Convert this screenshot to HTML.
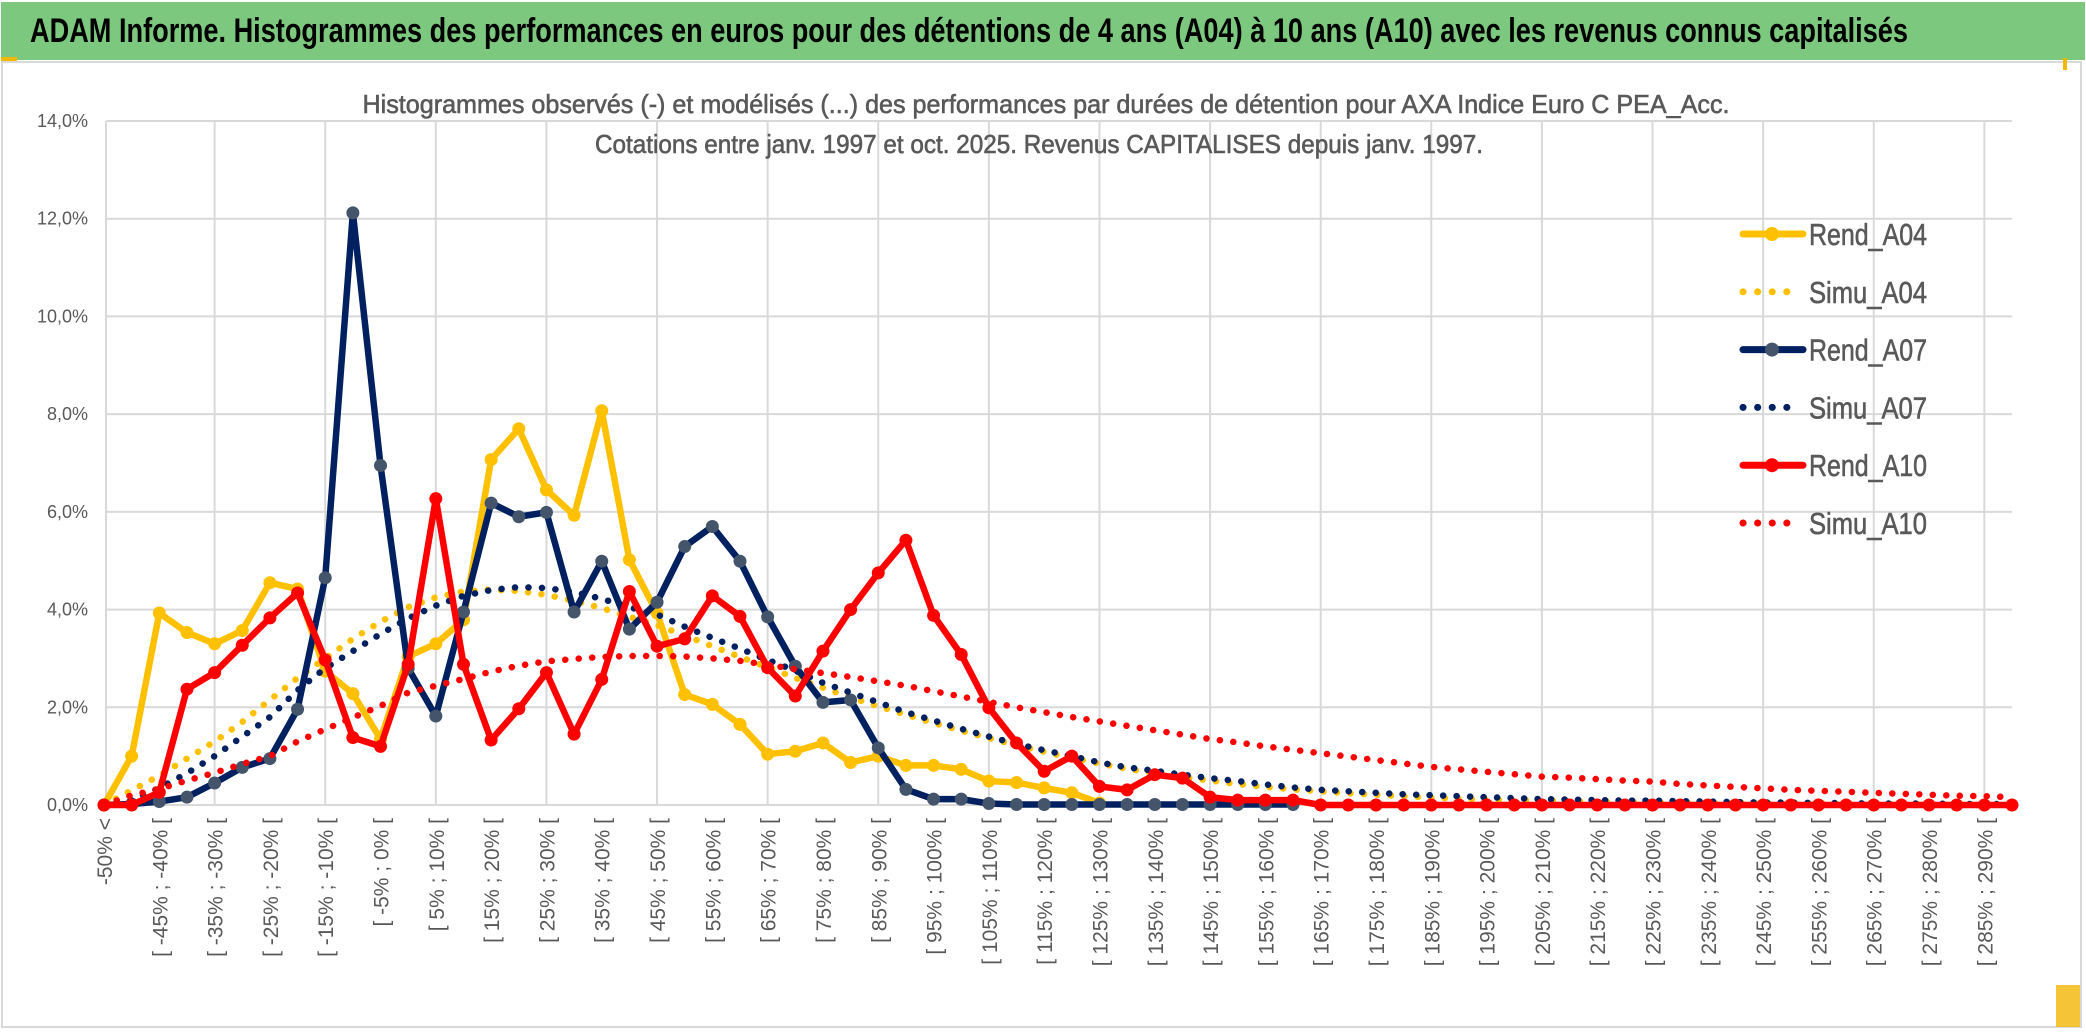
<!DOCTYPE html>
<html><head><meta charset="utf-8"><style>
html,body{margin:0;padding:0;background:#fff;}
svg{display:block;}
text{font-family:"Liberation Sans",sans-serif;}
</style></head><body>
<svg id="chart" width="2086" height="1033" viewBox="0 0 2086 1033" xmlns="http://www.w3.org/2000/svg">
<rect x="0" y="0" width="2086" height="1033" fill="#fff"/>
<rect x="1" y="2" width="2084" height="58" fill="#7DC87F"/>
<rect x="1" y="57" width="16" height="4" fill="#F2B705"/>
<text x="30" y="42" font-size="34" font-weight="bold" fill="#000" textLength="1878" lengthAdjust="spacingAndGlyphs">ADAM Informe. Histogrammes des performances en euros pour des détentions de 4 ans (A04) à 10 ans (A10) avec les revenus connus capitalisés</text>
<rect x="2" y="62" width="2079" height="965" fill="none" stroke="#d9d9d9" stroke-width="2"/>
<rect x="2063" y="58" width="4" height="12" fill="#F2B705"/>
<rect x="2056" y="985" width="24" height="42" fill="#F2B705" opacity="0.8"/>
<g id="grid"></g>
<text x="1046" y="113" font-size="26" fill="#595959" stroke="#595959" stroke-width="0.6" text-anchor="middle" textLength="1367" lengthAdjust="spacingAndGlyphs">Histogrammes observés (-) et modélisés (...) des performances par durées de détention pour AXA Indice Euro C PEA_Acc.</text>
<text x="1039" y="153" font-size="26" fill="#595959" stroke="#595959" stroke-width="0.6" text-anchor="middle" textLength="888" lengthAdjust="spacingAndGlyphs">Cotations entre janv. 1997 et oct. 2025. Revenus CAPITALISES depuis janv. 1997.</text>
<g id="yticks"></g>
<g id="xticks"></g>
<g id="series"></g>
<g id="legend"></g>
</svg>
<script>
const yTicks=[0,2,4,6,8,10,12,14];
const rendA04=[0,1.0,3.93,3.53,3.30,3.57,4.55,4.42,2.74,2.28,1.35,3.04,3.30,3.79,7.07,7.70,6.45,5.93,8.07,5.02,3.93,2.26,2.06,1.65,1.04,1.10,1.27,0.87,1.0,0.81,0.81,0.73,0.49,0.46,0.35,0.25,0.04];
const simuA04=[0,0.3,0.6,0.95,1.3,1.7,2.15,2.6,3.0,3.4,3.75,4.05,4.25,4.37,4.41,4.38,4.3,4.18,4.03,3.85,3.68,3.47,3.25,3.03,2.82,2.6,2.4,2.2,2.02,1.85,1.68,1.52,1.37,1.22,1.09,0.96,0.85,0.74,0.65,0.57,0.5,0.43,0.37,0.32,0.28,0.24,0.21,0.18,0.15,0.13,0.11,0.1,0.09,0.08,0.07,0.06,0.05,0.05,0.04,0.04,0.03,0.03,0.03,0.02,0.02,0.02,0.02,0.01,0.01,0.01];
const rendA07=[0,0.02,0.07,0.16,0.45,0.77,0.95,1.96,4.65,12.12,6.95,2.8,1.82,3.95,6.18,5.9,5.99,3.95,4.99,3.6,4.15,5.29,5.7,4.99,3.85,2.84,2.1,2.15,1.17,0.32,0.12,0.12,0.03,0.01,0.01,0.01,0.01,0.01,0.01,0.01,0.01,0.01,0.01,0.01];
const simuA07=[0,0.1,0.35,0.65,1.0,1.4,1.8,2.35,2.8,3.15,3.5,3.82,4.08,4.28,4.4,4.46,4.44,4.36,4.22,4.05,3.9,3.65,3.42,3.2,2.97,2.75,2.5,2.3,2.1,1.9,1.73,1.56,1.4,1.25,1.12,1.0,0.87,0.77,0.7,0.62,0.55,0.49,0.42,0.36,0.31,0.28,0.25,0.22,0.2,0.18,0.16,0.14,0.12,0.11,0.1,0.09,0.09,0.08,0.07,0.06,0.05,0.05,0.04,0.04,0.03,0.03,0.03,0.02,0.02,0.02];
const rendA10=[0,0,0.26,2.37,2.71,3.27,3.83,4.34,2.97,1.38,1.2,2.88,6.27,2.88,1.33,1.97,2.71,1.45,2.57,4.37,3.25,3.4,4.28,3.86,2.81,2.23,3.15,4.0,4.75,5.42,3.88,3.08,1.99,1.27,0.69,1.0,0.38,0.31,0.62,0.55,0.16,0.1,0.1,0.1,0,0,0,0,0,0,0,0,0,0,0,0,0,0,0,0,0,0,0,0,0,0,0,0,0,0];
const simuA10=[0,0.2,0.33,0.5,0.66,0.84,1.0,1.3,1.55,1.79,2.03,2.3,2.44,2.58,2.73,2.85,2.94,2.99,3.03,3.05,3.05,3.04,3.0,2.95,2.87,2.78,2.7,2.62,2.53,2.44,2.33,2.22,2.11,2.0,1.9,1.8,1.71,1.62,1.53,1.44,1.35,1.28,1.2,1.13,1.06,0.99,0.92,0.85,0.78,0.73,0.68,0.63,0.58,0.56,0.53,0.5,0.48,0.43,0.4,0.37,0.34,0.31,0.29,0.27,0.25,0.23,0.21,0.19,0.18,0.16];
const nCat=70;
const categories=[];
for(let k=0;k<nCat;k++){categories.push(k===0?'-50% <':'[ '+(-50+5*(k-1))+'% ; '+(-45+5*(k-1))+'% [');}

const NS='http://www.w3.org/2000/svg';
const X0=104,X1=2012,Y0=805,YTOP=121;
const xs=i=>X0+(X1-X0)*i/(nCat-1);
const ys=v=>Y0-(Y0-YTOP)*v/14;
function mk(tag,attrs,parent){const e=document.createElementNS(NS,tag);for(const k in attrs)e.setAttribute(k,attrs[k]);parent.appendChild(e);return e;}

const grid=document.getElementById('grid');
yTicks.forEach(t=>{const l=mk('line',{x1:106,x2:2012,y1:ys(t),y2:ys(t),stroke:'#d9d9d9','stroke-width':2},grid);

});
for(let i=0;i<nCat;i+=4){const l=mk('line',{x1:xs(i)+(i===0?2:0),x2:xs(i)+(i===0?2:0),y1:YTOP,y2:Y0,stroke:'#d9d9d9','stroke-width':2},grid);

}

const yt=document.getElementById('yticks');
yTicks.forEach(t=>{const e=mk('text',{x:88,y:ys(t)+6,'font-size':18,fill:'#595959','text-anchor':'end'},yt);
e.textContent=t.toFixed(1).replace('.',',')+'%';

});

const xt=document.getElementById('xticks');
for(let i=0;i<nCat;i+=2){const x=xs(i)+8;const e=mk('text',{x:x,y:818,'font-size':21,fill:'#595959','text-anchor':'end',transform:'rotate(-90 '+x+' 818)'},xt);
e.textContent=categories[i];

}

const sg=document.getElementById('series');
function rend(data,color,mcolor,name){
  const g=mk('g',{},sg);
  
  
  mk('polyline',{points:data.map((v,i)=>xs(i)+','+ys(v)).join(' '),fill:'none',stroke:color,'stroke-width':6.5,'stroke-linejoin':'round'},g);
  data.forEach((v,i)=>{const c=mk('circle',{cx:xs(i),cy:ys(v),r:6.5,fill:mcolor},g);
  
  });
}
function simu(data,color,name){
  const p=mk('polyline',{points:data.map((v,i)=>xs(i)+','+ys(v)).join(' '),fill:'none',stroke:color,'stroke-width':6.5,'stroke-linecap':'round','stroke-dasharray':'0.1 13.4'},sg);
  
  
}
rend(rendA04,'#FFC000','#FFC000','rend-a04-line');
simu(simuA04,'#FFC000','simu-a04-line');
rend(rendA07,'#002060','#44546A','rend-a07-line');
simu(simuA07,'#002060','simu-a07-line');
rend(rendA10,'#FF0000','#FF0000','rend-a10-line');
simu(simuA10,'#FF0000','simu-a10-line');

const lg=document.getElementById('legend');
const legendItems=[['Rend_A04','#FFC000','#FFC000',false],['Simu_A04','#FFC000',null,true],['Rend_A07','#002060','#44546A',false],['Simu_A07','#002060',null,true],['Rend_A10','#FF0000','#FF0000',false],['Simu_A10','#FF0000',null,true]];
legendItems.forEach((it,k)=>{
  const y=234+k*57.8;
  const g=mk('g',{},lg);
  
  
  if(it[3]){mk('line',{x1:1743,x2:1793,y1:y,y2:y,stroke:it[1],'stroke-width':7,'stroke-linecap':'round','stroke-dasharray':'0.1 14.5'},g);}
  else{mk('line',{x1:1743,x2:1803,y1:y,y2:y,stroke:it[1],'stroke-width':7,'stroke-linecap':'round'},g);
  mk('circle',{cx:1772,cy:y,r:7,fill:it[2]},g);}
  const t=mk('text',{x:1809,y:y+11,'font-size':31,fill:'#595959',stroke:'#595959','stroke-width':0.6,textLength:118,lengthAdjust:'spacingAndGlyphs'},g);
  t.textContent=it[0];
});
</script>
</body></html>
